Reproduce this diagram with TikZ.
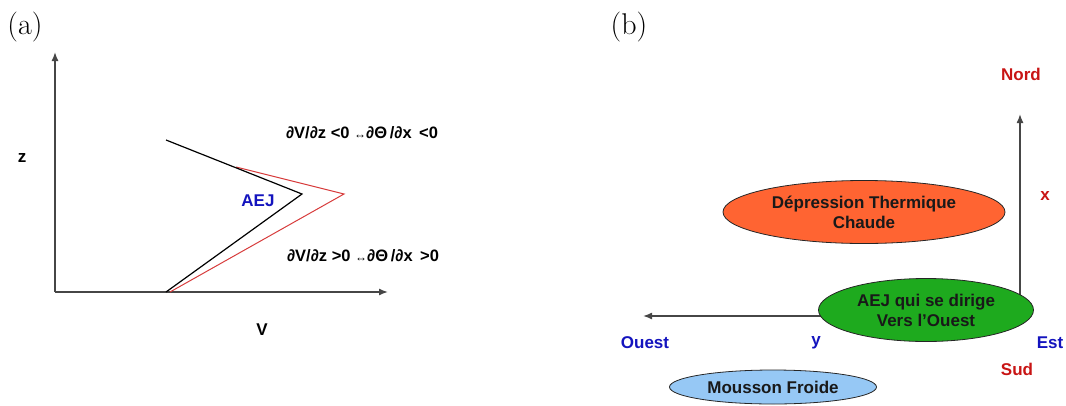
\documentclass[tikz,border=0pt]{standalone}
\usepackage{fontspec}
\setsansfont{Liberation Sans}
\usetikzlibrary{arrows.meta,shapes.geometric}
\definecolor{axisgray}{RGB}{70,70,70}
\definecolor{lblred}{RGB}{200,20,20}
\definecolor{lblblue}{RGB}{20,20,190}
\definecolor{profred}{RGB}{215,60,60}
\definecolor{depfill}{RGB}{255,100,50}
\definecolor{aejfill}{RGB}{30,170,30}
\definecolor{moufill}{RGB}{150,200,245}
\newcommand{\smarr}{{\fontsize{12}{12}\selectfont ↔}}
\begin{document}
\begin{tikzpicture}[x=1pt,y=-1pt,
  lbl/.style={font=\sffamily\bfseries\fontsize{17}{19}\selectfont, inner sep=0pt},
  eqn/.style={font=\sffamily\bfseries\fontsize{16.5}{18}\selectfont, inner sep=0pt},
  panel/.style={font=\fontsize{30}{32}\selectfont, inner sep=0pt},
  axis/.style={draw=axisgray, line width=1.4pt, -{Latex[length=9pt,width=7pt]}},
  bzone/.style={ellipse, draw=black!85, line width=0.8pt, inner sep=0pt,
    font=\sffamily\bfseries\fontsize{17}{20}\selectfont, align=center, text=black!90}]
\useasboundingbox (0,0) rectangle (1066,405);
% panel (a)
\node[panel] (la) at (25,27) {(a)};
\coordinate (o) at (55,292);
\coordinate (ztop) at (55,52);
\coordinate (vend) at (388,292);
\draw[axis] (o) -- (ztop);
\draw[axis] (o) -- (vend);
\coordinate (r1) at (236,167);
\coordinate (r2) at (344,194);
\coordinate (r3) at (170,292);
\coordinate (b1) at (166,140);
\coordinate (b2) at (302,194);
\coordinate (b3) at (166,292);
\draw[profred, line width=1pt] (r1) -- (r2) -- (r3);
\draw[black, line width=1.2pt] (b1) -- (b2) -- (b3);
\node[lbl] (z) at (22,158) {z};
\node[lbl] (v) at (262,330) {V};
\node[lbl, text=lblblue] (aejl) at (258,201) {AEJ};
\node[eqn] (eq1) at (362,133) {∂V/∂z <0 \smarr∂Θ\,/∂x \,<0};
\node[eqn] (eq2) at (363,256) {∂V/∂z >0 \smarr∂Θ\,/∂x \,>0};
% panel (b)
\node[panel] (lb) at (629,27) {(b)};
\coordinate (nbase) at (1020,305);
\coordinate (ntip) at (1020,114);
\coordinate (wbase) at (900,316);
\coordinate (wtip) at (643,316);
\draw[axis] (nbase) -- (ntip);
\draw[axis] (wbase) -- (wtip);
\node[bzone, fill=depfill, minimum width=282pt, minimum height=63pt] (dep) at (864,212) {Dépression Thermique\\Chaude};
\node[bzone, fill=aejfill, minimum width=215pt, minimum height=63pt] (aej) at (926,310) {AEJ qui se dirige\\Vers l'Ouest};
\node[bzone, fill=moufill, minimum width=207pt, minimum height=34pt] (mou) at (773,387) {Mousson Froide};
\node[lbl, text=lblred] (nord) at (1021,74) {Nord};
\node[lbl, text=lblred] (xl) at (1045,196) {x};
\node[lbl, text=lblblue] (est) at (1050,343) {Est};
\node[lbl, text=lblred] (sud) at (1017,369) {Sud};
\node[lbl, text=lblblue] (ouest) at (645,343) {Ouest};
\node[lbl, text=lblblue] (yl) at (816,343) {y};
\end{tikzpicture}
\end{document}
